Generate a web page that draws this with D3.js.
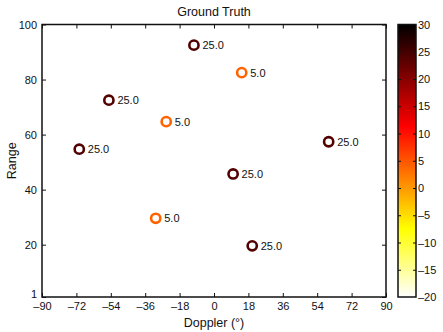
<!DOCTYPE html>
<html>
<head>
<meta charset="utf-8">
<script src="https://cdn.jsdelivr.net/npm/d3@7"></script>
<style>
  body { margin: 0; background: #fff; }
  svg text { font-family: "Liberation Sans", Arial, sans-serif; fill: #111; }
</style>
</head>
<body>
<svg width="443" height="332"></svg>
<script>
// target data
var doppler = [-10.5, 14.5, -55, -25, -70.5, 60, 10, -30.5, 20];
var range = [92.5, 82.5, 72.5, 64.7, 54.7, 57.4, 45.7, 29.6, 19.6];
var power = [25, 5, 25, 5, 25, 25, 25, 5, 25];

var xTicks = [-90, -72, -54, -36, -18, 0, 18, 36, 54, 72, 90];
var yTicks = [1, 20, 40, 60, 80, 100];
var cTicks = [-20, -15, -10, -5, 0, 5, 10, 15, 20, 25, 30];

var margin = {'top': 24.5, 'left': 42, 'bottom': 35, 'right': 57};
var W = 443, H = 332;
var w = W - margin.left - margin.right;
var h = H - margin.top - margin.bottom;

var svg = d3.select('svg');
var fmt = function(d) { return String(d).replace('-', '\u2013'); };

// matlab "hot", flipped
function hot(s) {
    var r = Math.min(1, s / 0.375),
        g = Math.max(0, Math.min(1, (s - 0.375) / 0.375)),
        b = Math.max(0, Math.min(1, (s - 0.75) / 0.25));
    return d3.rgb(r * 255, g * 255, b * 255).formatHex();
}
var cScale = d3.scaleLinear().domain([-20, 30]).range([0, 1]);
var colorOf = function(v) { return hot(Math.max(0, 1.02 - cScale(v))); };

var x = d3.scaleLinear().domain([-90, 90]).range([0, w]);
var y = d3.scaleLinear().domain([1, 100]).range([h, 0]);

var g = svg.append('g')
    .attr('transform', `translate(${margin.left}, ${margin.top})`);

function styleAxis(sel, hideText) {
    sel.select('.domain').remove();
    sel.selectAll('line').attr('stroke', '#111').attr('stroke-width', 1);
    sel.selectAll('text').style('font-size', '11px');
    if (hideText) sel.selectAll('text').remove();
}

g.append('g').attr('transform', `translate(0, ${h})`)
    .call(d3.axisBottom(x).tickValues(xTicks).tickSize(-4).tickPadding(5).tickFormat(fmt))
    .call(styleAxis, false);
g.append('g')
    .call(d3.axisTop(x).tickValues(xTicks).tickSize(-4))
    .call(styleAxis, true);
var yAx = g.append('g')
    .call(d3.axisLeft(y).tickValues(yTicks).tickSize(-4).tickPadding(5))
    .call(styleAxis, false);
// the "1" label sits a little above its tick, clear of "-90"
yAx.selectAll('text').filter(function(d) { return d === 1; })
    .attr('dy', '0.05em');
g.append('g').attr('transform', `translate(${w}, 0)`)
    .call(d3.axisRight(y).tickValues(yTicks).tickSize(-4))
    .call(styleAxis, true);

g.append('rect')
    .attr('width', w).attr('height', h)
    .attr('fill', 'none').attr('stroke', '#111').attr('stroke-width', 1.5);

var pts = doppler.map(function(d, i) { return {x: d, y: range[i], v: power[i]}; });

g.selectAll('circle.pt').data(pts).enter().append('circle')
    .attr('class', 'pt')
    .attr('cx', function(d) { return x(d.x); })
    .attr('cy', function(d) { return y(d.y); })
    .attr('r', 4.6)
    .attr('fill', 'none')
    .attr('stroke', function(d) { return colorOf(d.v); })
    .attr('stroke-width', 2.6);

g.selectAll('text.lbl').data(pts).enter().append('text')
    .attr('class', 'lbl')
    .attr('x', function(d) { return x(d.x) + 8.5; })
    .attr('y', function(d) { return y(d.y); })
    .attr('dy', '0.35em')
    .style('font-size', '11px')
    .text(function(d) { return d.v.toFixed(1); });

svg.append('text')
    .attr('x', margin.left + w / 2).attr('y', 16)
    .attr('text-anchor', 'middle').style('font-size', '12.5px')
    .text('Ground Truth');
svg.append('text')
    .attr('x', margin.left + w / 2).attr('y', 327)
    .attr('text-anchor', 'middle').style('font-size', '12.5px')
    .text('Doppler (\u00b0)');
svg.append('text')
    .attr('transform', `translate(16, ${margin.top + h / 2}) rotate(-90)`)
    .attr('text-anchor', 'middle').style('font-size', '12.5px')
    .text('Range');

// colorbar
var cb = {x: 398, w: 18};
var cy = d3.scaleLinear().domain([-20, 30]).range([margin.top + h, margin.top]);
var grad = svg.append('defs').append('linearGradient')
    .attr('id', 'hotgrad').attr('x1', 0).attr('y1', 1).attr('x2', 0).attr('y2', 0);
d3.range(0, 1.0001, 0.025).forEach(function(t) {
    grad.append('stop').attr('offset', t).attr('stop-color', hot(1 - t));
});
svg.append('rect')
    .attr('x', cb.x).attr('y', margin.top).attr('width', cb.w).attr('height', h)
    .attr('fill', 'url(#hotgrad)').attr('stroke', '#111').attr('stroke-width', 1.5);

svg.append('g').attr('transform', `translate(${cb.x + cb.w}, 0)`)
    .call(d3.axisRight(cy).tickValues(cTicks).tickSize(0).tickPadding(2).tickFormat(fmt))
    .call(styleAxis, false);
svg.append('g').attr('transform', `translate(${cb.x + cb.w}, 0)`)
    .call(d3.axisRight(cy).tickValues(cTicks.slice(1, -1)).tickSize(-3))
    .call(styleAxis, true);
svg.append('g').attr('transform', `translate(${cb.x}, 0)`)
    .call(d3.axisLeft(cy).tickValues(cTicks.slice(1, -1)).tickSize(-3))
    .call(styleAxis, true);
</script>
</body>
</html>
